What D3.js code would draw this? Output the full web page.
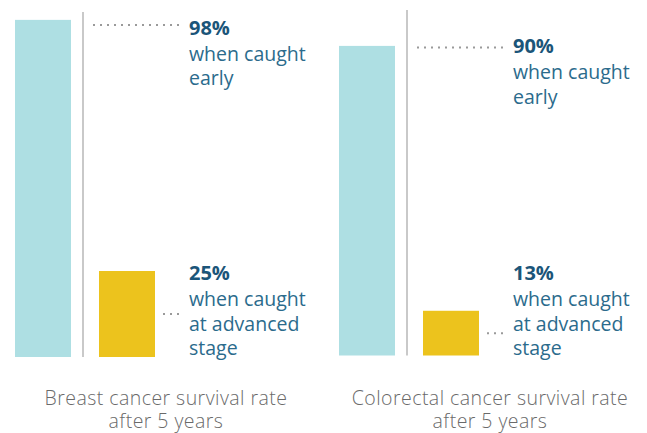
<!DOCTYPE html>
<html>
<head>
<meta charset="utf-8">
<script src="https://cdn.jsdelivr.net/npm/d3@7"></script>
<style>
  body { margin: 0; background: #fff; }
  svg { display: block; font-family: 'Open Sans', sans-serif; }
</style>
</head>
<body>
<svg id="chart"></svg>
<script>
// data
const cancers = ['Breast', 'Colorectal'];
const stages = ['early', 'advanced'];
const earlyRates = [98, 90];
const advancedRates = [25, 13];
const titles = [
    ['Breast cancer survival rate', 'after 5 years'],
    ['Colorectal cancer survival rate', 'after 5 years']
];
const stageLabels = {
    early: ['when caught', 'early'],
    advanced: ['when caught', 'at advanced', 'stage']
};

const width = 647;
const height = 433;
const colors = { early: '#aedfe3', advanced: '#ecc31d' };

// panel layout
const panels = [
    { x: 0, base: 357, top: 12, earlyDy: 5, earlyGap: 10 },
    { x: 324, base: 355.5, top: 10, earlyDy: 1.5, earlyGap: 6 }
];

const svg = d3.select('#chart')
    .attr('width', width)
    .attr('height', height);

const x = d3.scaleBand()
    .domain(stages)
    .range([15, 155])
    .paddingInner(1 / 3)
    .paddingOuter(0);

const labelX = 189;
const lineH = 24.5;

cancers.forEach((name, i) => {
    const p = panels[i];
    const y = d3.scaleLinear().domain([0, 100]).range([p.base, p.base - 344]);
    const rows = [
        { stage: 'early', value: earlyRates[i] },
        { stage: 'advanced', value: advancedRates[i] }
    ];

    const g = svg.append('g').attr('transform', `translate(${p.x},0)`);

    g.selectAll('rect')
        .data(rows)
        .join('rect')
            .attr('x', d => x(d.stage))
            .attr('y', d => y(d.value))
            .attr('width', x.bandwidth())
            .attr('height', d => y(0) - y(d.value))
            .attr('fill', d => colors[d.stage]);

    // divider
    g.append('line')
        .attr('x1', 83).attr('x2', 83)
        .attr('y1', p.top).attr('y2', y(0))
        .attr('stroke', '#c9c9c9')
        .attr('stroke-width', 2);

    // leader dots
    const earlyY = y(earlyRates[i]) + p.earlyDy;
    const advY = (y(advancedRates[i]) + y(0)) / 2;

    g.append('line')
        .attr('x1', 93).attr('x2', 181)
        .attr('y1', earlyY).attr('y2', earlyY)
        .attr('stroke', '#9a9a9a')
        .attr('stroke-width', 2)
        .attr('stroke-dasharray', '2,5');

    g.append('line')
        .attr('x1', x('advanced') + x.bandwidth() + 8).attr('x2', 181)
        .attr('y1', advY).attr('y2', advY)
        .attr('stroke', '#9a9a9a')
        .attr('stroke-width', 2)
        .attr('stroke-dasharray', '2,5');

    // value labels
    const labelTops = { early: earlyY + p.earlyGap, advanced: 280 };
    rows.forEach(d => {
        const t = g.append('text')
            .attr('x', labelX)
            .attr('y', labelTops[d.stage]);
        t.append('tspan')
            .attr('x', labelX)
            .attr('font-weight', 700)
            .attr('font-size', 20)
            .attr('fill', '#1b5579')
            .text(d.value + '%');
        stageLabels[d.stage].forEach((line, k) => {
            t.append('tspan')
                .attr('x', labelX)
                .attr('dy', k === 0 ? 26 : lineH)
                .attr('font-size', 19.5)
                .attr('fill', '#2b6b8c')
                .text(line);
        });
    });

    // title
    g.append('text')
        .attr('text-anchor', 'middle')
        .attr('font-size', 19.5)
        .attr('font-weight', 300)
        .attr('letter-spacing', 0.45)
        .attr('fill', '#6a6a6a')
        .selectAll('tspan')
        .data(titles[i])
        .join('tspan')
            .attr('x', 166)
            .attr('y', (d, k) => 405 + k * 23)
            .text(d => d);
});
</script>
</body>
</html>
